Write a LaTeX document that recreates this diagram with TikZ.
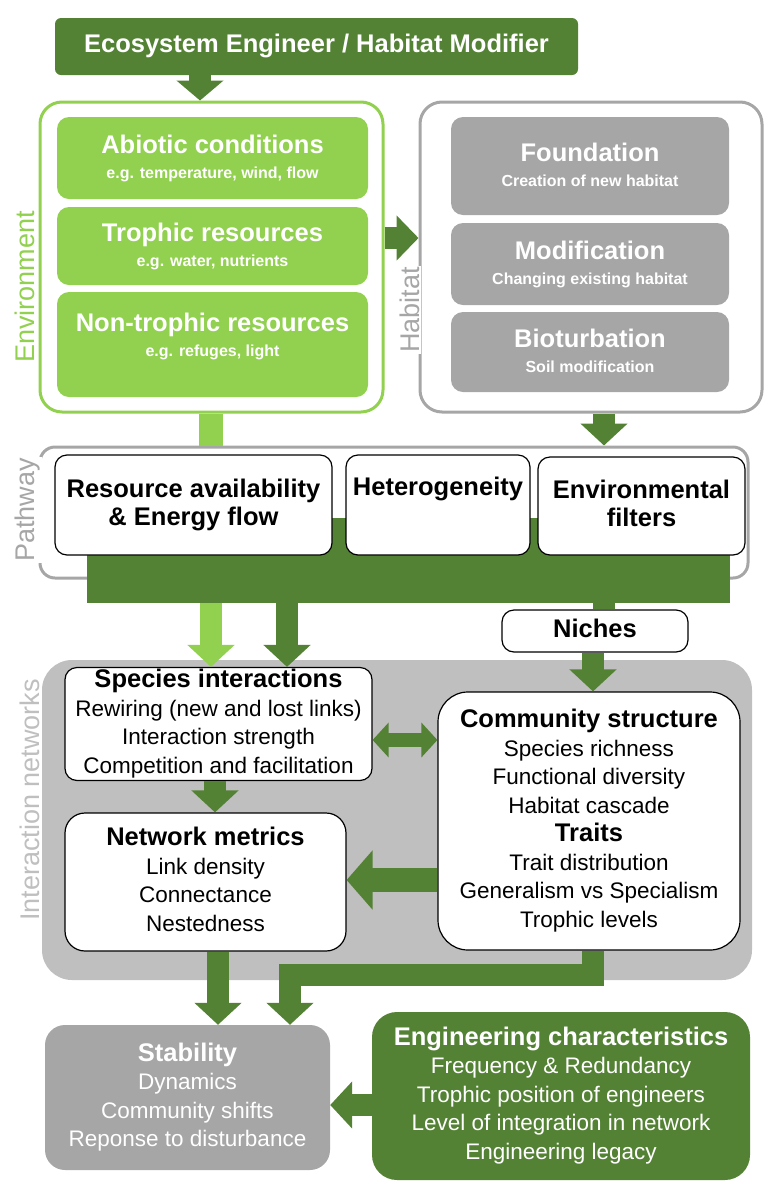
\documentclass[tikz,border=0pt]{standalone}
\usepackage{fontspec}
\setmainfont{Liberation Sans}
\usetikzlibrary{arrows.meta}
\definecolor{dkg}{HTML}{548235}
\definecolor{ltg}{HTML}{92D050}
\definecolor{gr}{HTML}{A6A6A6}
\definecolor{lgr}{HTML}{BFBFBF}
\newcommand{\hd}{\bfseries\fontsize{25.5}{29}\selectfont\vrule width0pt height20pt depth7.5pt\relax}
\newcommand{\sm}{\bfseries\fontsize{16}{20}\selectfont\vrule width0pt height17pt depth4pt\relax}
\newcommand{\bd}{\mdseries\fontsize{22.5}{29}\selectfont\vrule width0pt height20pt depth7.5pt\relax}
\begin{document}
\begin{tikzpicture}[x=1pt,y=-1pt,
 box/.style={rectangle,rounded corners=12pt,inner sep=0pt,align=center},
 wbox/.style={box,draw=black,line width=1.2pt,fill=white},
 gbox/.style={box,fill=gr,text=white},
 lbox/.style={box,fill=ltg,text=white},
 arr/.style={line width=22pt,-{Triangle[width=46pt,length=22pt]}},
 side/.style={rotate=90,font=\fontsize{27}{29}\selectfont,fill=white,inner sep=1pt}]
\useasboundingbox (0,0) rectangle (775,1200);
% top
\node[box,fill=dkg,text=white,rounded corners=6pt,minimum width=523pt,minimum height=57pt] (top) at (316.5,46.5) {\hd Ecosystem Engineer / Habitat Modifier};
% environment
\node[box,draw=ltg,line width=3pt,rounded corners=22pt,minimum width=343pt,minimum height=310pt] (env) at (211.5,257) {};
\node[lbox,minimum width=311pt,minimum height=82pt] (abio) at (212.5,158) {\hd Abiotic conditions\\\sm e.g. temperature, wind, flow};
\node[lbox,minimum width=311pt,minimum height=78pt] (troph) at (212.5,246) {\hd Trophic resources\\\sm e.g. water, nutrients};
\node[lbox,minimum width=311pt,minimum height=105pt] (ntroph) at (212.5,344.5) {};
\node[text=white,align=center,inner sep=0pt] (ntropht) at (212.5,336) {\hd Non-trophic resources\\\sm e.g. refuges, light};
\node[side,text=ltg] (envl) at (25,287) {Environment};
% habitat
\node[box,draw=gr,line width=3pt,rounded corners=22pt,minimum width=342pt,minimum height=310pt] (hab) at (591,257) {};
\node[gbox,minimum width=278pt,minimum height=98pt] (found) at (590,166) {\hd Foundation\\\sm Creation of new habitat};
\node[gbox,minimum width=278pt,minimum height=82pt] (modif) at (590,264) {\hd Modification\\\sm Changing existing habitat};
\node[gbox,minimum width=278pt,minimum height=80pt] (biot) at (590,352) {\hd Bioturbation\\\sm Soil modification};
\node[side,text=gr] (habl) at (410,310) {Habitat};
% pathway
\node[box,draw=gr,line width=3pt,rounded corners=15pt,minimum width=708pt,minimum height=131pt] (path) at (394,512.5) {};
\node[side,text=gr] (pathl) at (28,510) {Pathway};
\node[rectangle,fill=dkg,minimum width=643pt,minimum height=85pt,inner sep=0pt] (band) at (408.5,560.5) {};
\node[wbox,minimum width=277pt,minimum height=100pt] (res) at (193.5,505) {\hd Resource availability\\\hd \& Energy flow};
\node[wbox,minimum width=184pt,minimum height=100pt] (het) at (438,505) {};
\node[inner sep=0pt] (hett) at (438,489) {\hd Heterogeneity};
\node[wbox,minimum width=207pt,minimum height=98pt] (filt) at (641.5,506) {\hd Environmental\\\hd filters};
% connectors top part
\coordinate (x200) at (200,0);
\coordinate (y238) at (0,238);
\coordinate (x211) at (211,0);
\coordinate (x604) at (604,0);
\coordinate (x287) at (287,0);
\coordinate (x593) at (593,0);
\draw[line width=22pt,dkg,-{Triangle[width=46pt,length=20pt]}] (top.south -| x200) -- (env.north -| x200);
\draw[line width=22pt,dkg,-{Triangle[width=44pt,length=22pt]}] (env.east |- y238) -- (hab.west |- y238);
\draw[line width=24pt,ltg] (env.south -| x211) -- (path.north -| x211);
\draw[arr,dkg] (hab.south -| x604) -- (path.north -| x604);
% interaction networks
\node[box,fill=lgr,rounded corners=30pt,minimum width=710pt,minimum height=320pt] (inter) at (397,820) {};
\node[rotate=90,text=lgr,font=\fontsize{27}{29}\selectfont] (interl) at (30,800) {Interaction networks};
\node[wbox,minimum width=186pt,minimum height=42pt] (niche) at (595,631) {\hd Niches};
\node[wbox,minimum width=307pt,minimum height=112pt] (spec) at (218.5,724) {\hd Species interactions\\\bd Rewiring (new and lost links)\\\bd Interaction strength\\\bd Competition and facilitation};
\node[wbox,rounded corners=30pt,minimum width=302pt,minimum height=258pt] (comm) at (589,821) {\hd Community structure\\\bd Species richness\\\bd Functional diversity\\\bd Habitat cascade\\\hd Traits\\\bd Trait distribution\\\bd Generalism vs Specialism\\\bd Trophic levels};
\node[wbox,rounded corners=20pt,minimum width=281pt,minimum height=138pt] (net) at (205.5,882) {\hd Network metrics\\\bd Link density\\\bd Connectance\\\bd Nestedness};
\draw[arr,ltg] (band.south -| x211) -- (spec.north -| x211);
\draw[arr,dkg] (band.south -| x287) -- (spec.north -| x287);
\draw[line width=22pt,dkg] (band.south -| x604) -- (niche.north -| x604);
\draw[arr,dkg] (niche.south -| x593) -- (comm.north -| x593);
\coordinate (y740) at (0,740);
\coordinate (y880) at (0,880);
\coordinate (x215) at (215,0);
\draw[line width=14pt,dkg,{Triangle[width=34pt,length=16pt]}-{Triangle[width=34pt,length=16pt]}] (spec.east |- y740) -- (comm.west |- y740);
\draw[arr,dkg] (spec.south -| x215) -- (net.north -| x215);
\draw[line width=24pt,dkg,-{Triangle[width=58pt,length=26pt]}] (comm.west |- y880) -- (net.east |- y880);
% bottom
\node[gbox,rounded corners=20pt,minimum width=285pt,minimum height=145pt] (stab) at (187.5,1097.5) {\hd Stability\\\bd Dynamics\\\bd Community shifts\\\bd Reponse to disturbance};
\node[box,fill=dkg,text=white,rounded corners=25pt,minimum width=378pt,minimum height=168pt] (eng) at (561,1096) {\hd Engineering characteristics\\\bd Frequency \& Redundancy\\\bd Trophic position of engineers\\\bd Level of integration in network\\\bd Engineering legacy};
\coordinate (x218) at (218,0);
\coordinate (x290) at (290,0);
\coordinate (bend) at (593,975);
\coordinate (y1105) at (0,1105);
\draw[arr,dkg] (net.south -| x218) -- (stab.north -| x218);
\draw[arr,dkg] (comm.south -| x593) -- (bend) -| (stab.north -| x290);
\draw[arr,dkg] (eng.west |- y1105) -- (stab.east |- y1105);
\end{tikzpicture}
\end{document}
